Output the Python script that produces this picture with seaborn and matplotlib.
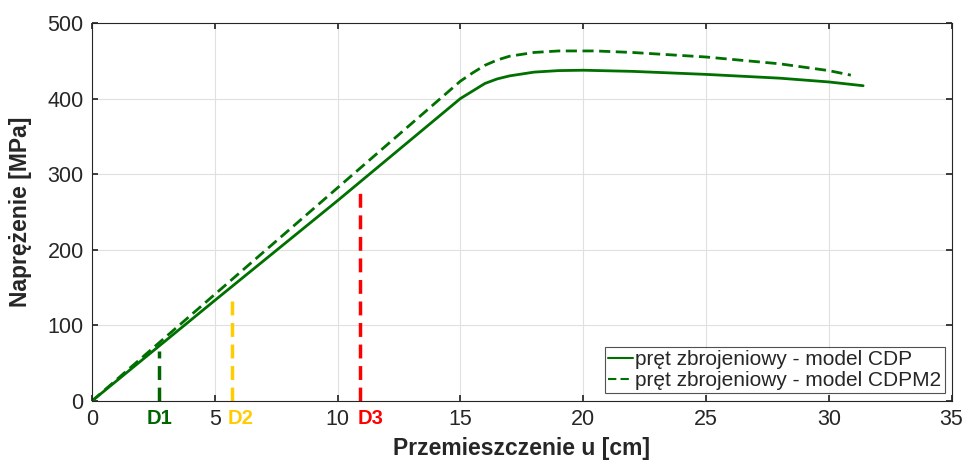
import numpy as np
import pandas as pd
import matplotlib
matplotlib.use('Agg')
import matplotlib.pyplot as plt
import seaborn as sns

# CDP model curve (displacement [cm], stress [MPa])
cdp_u = [0, 5, 10, 15, 15.5, 16, 16.5, 17, 18, 19, 20, 22, 25, 28, 30, 31.4]
cdp_s = [0, 133, 265, 400, 410, 420, 426, 430, 435, 437, 437.5, 436, 432, 427, 422, 417]

# CDPM2 model curve
cdpm2_u = [0, 5, 10, 15, 15.5, 16, 16.5, 17, 18, 19, 20.5, 22, 25, 28, 30, 30.9]
cdpm2_s = [0, 141, 282, 423, 434, 444, 451, 456, 461, 463, 463, 461, 455, 446, 437, 431]

# damage markers
marker_names = ['D1', 'D2', 'D3']
marker_u = [2.75, 5.7, 10.9]
marker_top = [66, 141, 284]
marker_label_u = [2.73, 6.06, 11.36]
marker_colors = ['#006400', '#FFCC00', '#FF0000']

sns.set_theme(style='white')
plt.rcParams['font.family'] = ['Liberation Sans', 'DejaVu Sans']

fig = plt.figure(figsize=(9.68, 4.65), dpi=100)
ax = fig.add_axes([0.095, 0.1376, 0.888, 0.813])

df = pd.concat([
    pd.DataFrame({'u': cdp_u, 's': cdp_s, 'model': 'pręt zbrojeniowy - model CDP'}),
    pd.DataFrame({'u': cdpm2_u, 's': cdpm2_s, 'model': 'pręt zbrojeniowy - model CDPM2'}),
])

sns.lineplot(data=df, x='u', y='s', hue='model', style='model',
             palette=['#007000', '#007000'], dashes=[(None, None), (4, 2)],
             linewidth=2, sort=False, ax=ax)

for name, u, top, lu, c in zip(marker_names, marker_u, marker_top, marker_label_u, marker_colors):
    ax.plot([u, u], [0, top], color=c, linewidth=2.5, linestyle=(0, (4, 2.2)))
    ax.text(lu, -11, name, color=c, fontsize=14.5, fontweight='bold', ha='center', va='top')

ax.set_xlim(0, 35)
ax.set_ylim(0, 500)
ax.set_xticks(range(0, 36, 5))
ax.set_yticks(range(0, 501, 100))
ax.grid(True, color='#e0e0e0', linewidth=0.8)
ax.tick_params(direction='in', length=4, labelsize=15.5, colors='#262626', pad=6,
               top=True, right=True, bottom=True, left=True)
for sp in ax.spines.values():
    sp.set_color('#262626')
    sp.set_linewidth(0.8)

ax.set_xlabel('Przemieszczenie u [cm]', fontsize=16.5, fontweight='bold', labelpad=5)
ax.set_ylabel('Naprężenie [MPa]', fontsize=16.5, fontweight='bold', labelpad=11)

leg = ax.legend(loc='lower right', fontsize=15, frameon=True, fancybox=False,
                edgecolor='#262626', handlelength=1.2, handletextpad=0.1,
                borderpad=0.15, labelspacing=0.1, borderaxespad=0,
                bbox_to_anchor=(0.992, 0.021))
leg.get_frame().set_linewidth(0.8)
for h in leg.get_lines():
    h.set_linewidth(1.5)

fig.savefig('out.png', dpi=100)
